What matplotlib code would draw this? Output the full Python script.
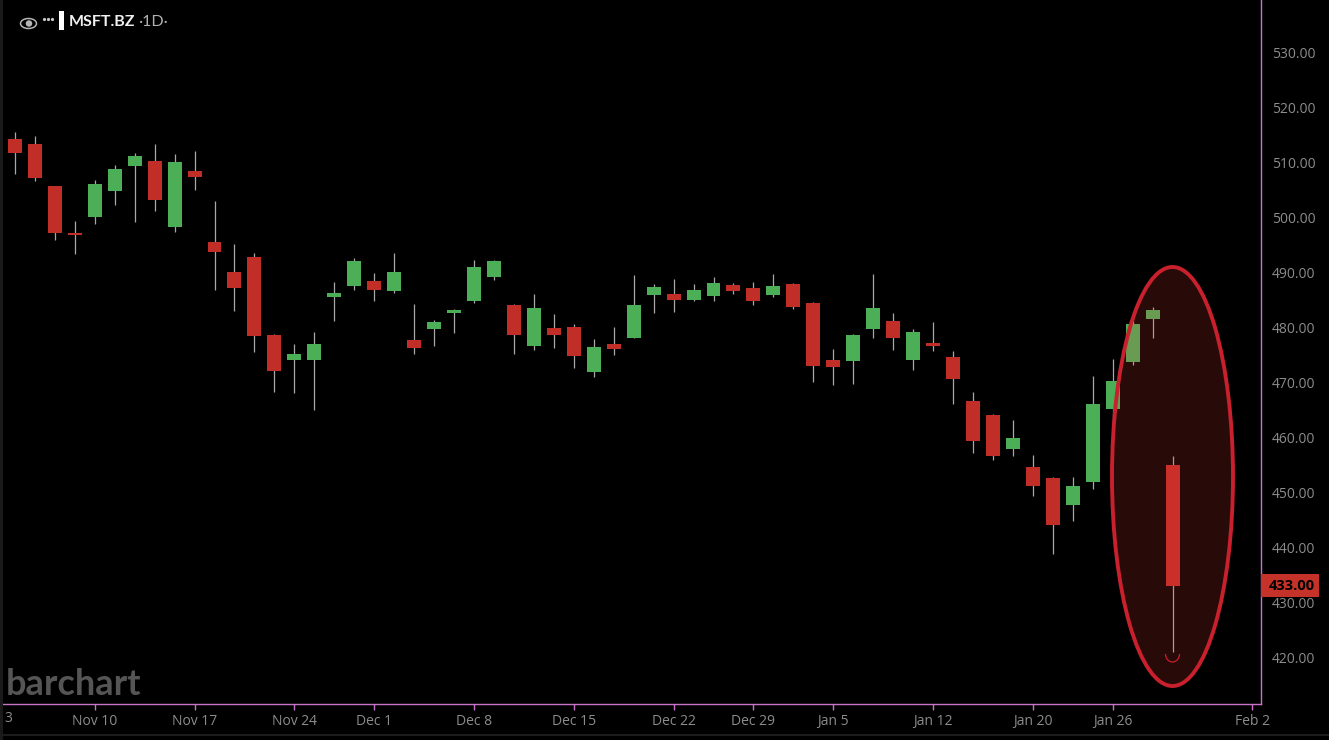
import matplotlib
matplotlib.use("Agg")
import matplotlib.pyplot as plt
from matplotlib.patches import Ellipse, Arc, Rectangle

plt.rcParams['font.family'] = ['Open Sans', 'DejaVu Sans']

# daily candles, Nov 4 -> Jan 29
opens = [514.3, 513.3, 505.7, 496.95, 500.0, 504.8, 509.3, 510.3, 498.2, 508.4,
         495.4, 490.1, 492.7, 478.5, 474.0, 474.0, 485.5, 487.5, 488.4, 486.6,
         477.7, 479.7, 482.5, 484.8, 489.1, 484.0, 476.6, 479.9, 480.1, 471.9,
         476.9, 478.1, 485.9, 486.1, 484.9, 485.7, 487.7, 487.1, 485.9, 487.9,
         484.4, 474.0, 473.8, 479.7, 481.2, 474.1, 477.2, 474.6, 466.5, 464.1,
         457.9, 454.5, 452.6, 447.6, 451.9, 465.2, 473.7, 481.5, 455.0]
closes = [511.7, 507.1, 497.1, 496.85, 506.0, 508.7, 511.1, 503.2, 510.1, 507.4,
          493.7, 487.1, 478.4, 472.1, 475.1, 477.0, 486.3, 492.0, 486.7, 490.0,
          476.3, 480.9, 483.2, 491.0, 492.0, 478.5, 483.5, 478.5, 474.8, 476.4,
          476.1, 484.0, 487.4, 484.9, 486.8, 488.0, 486.6, 484.8, 487.5, 483.6,
          472.9, 472.8, 478.5, 483.5, 478.1, 479.2, 476.6, 470.6, 459.4, 456.6,
          459.9, 451.2, 444.1, 451.2, 466.0, 470.3, 480.6, 483.2, 433.0]
highs = [515.5, 514.8, 505.7, 499.3, 506.8, 509.5, 511.7, 513.4, 511.5, 512.0,
         502.9, 495.1, 493.5, 478.8, 476.9, 479.1, 488.3, 492.6, 489.9, 493.5,
         484.2, 481.3, 483.3, 492.3, 492.2, 484.2, 486.0, 482.4, 480.6, 477.9,
         480.0, 489.5, 487.9, 488.8, 487.9, 489.1, 488.0, 488.3, 489.7, 488.0,
         484.6, 476.0, 478.7, 489.7, 482.6, 479.7, 481.0, 475.7, 468.2, 464.3,
         463.2, 456.8, 452.8, 452.8, 471.1, 474.3, 482.8, 483.7, 456.5]
lows = [507.9, 506.6, 495.8, 493.3, 498.8, 502.3, 499.2, 501.2, 497.4, 504.9,
        486.8, 482.9, 475.5, 468.3, 468.0, 464.9, 481.2, 486.7, 484.7, 486.3,
        475.2, 476.5, 478.9, 484.4, 488.5, 475.1, 475.9, 476.3, 472.5, 470.9,
        475.0, 478.0, 482.5, 482.7, 484.7, 484.8, 486.0, 484.1, 485.5, 483.3,
        470.1, 469.5, 469.7, 478.0, 475.9, 472.2, 475.7, 466.0, 457.2, 455.9,
        456.5, 449.3, 438.8, 444.8, 450.6, 462.1, 473.2, 478.0, 421.0]

date_ticks = [4, 9, 14, 18, 23, 28, 33, 37, 41, 46, 51, 55, 62]
date_labels = ["Nov 10", "Nov 17", "Nov 24", "Dec 1", "Dec 8", "Dec 15", "Dec 22",
               "Dec 29", "Jan 5", "Jan 12", "Jan 20", "Jan 26", "Feb 2"]
price_ticks = list(range(420, 540, 10))
last_price = 433.0

W, H = 1329, 740
AX_W, AX_H = 1261, 704
BAR_STEP, BAR_X0 = 19.96, 14.9
PX_PER_USD, Y_530 = 5.5, 52.2

GREEN = "#4dae58"
RED = "#c02e27"
WICK = "#a8a8a8"
PINK = "#c873c8"
LABEL = "#8c8c8c"

fig = plt.figure(figsize=(W / 100, H / 100), dpi=100, facecolor="black")
ax = fig.add_axes([0, 1 - AX_H / H, AX_W / W, AX_H / H], facecolor="black")
ax.set_xlim(-BAR_X0 / BAR_STEP, (AX_W - BAR_X0) / BAR_STEP)
ax.set_ylim(530 - (AX_H - Y_530) / PX_PER_USD, 530 + Y_530 / PX_PER_USD)

for i in range(len(opens)):
    col = GREEN if closes[i] > opens[i] else RED
    ax.vlines(i, lows[i], highs[i], color=WICK, linewidth=0.9, zorder=2)
    body = max(abs(closes[i] - opens[i]), 0.2)
    ax.bar(i, body, bottom=min(opens[i], closes[i]), width=0.7, color=col, zorder=3)

ax.yaxis.tick_right()
ax.set_yticks(price_ticks)
ax.set_yticklabels([f"{p:.2f}" for p in price_ticks])
ax.tick_params(axis="y", length=0, pad=8, labelsize=10, labelcolor=LABEL)
ax.set_xticks(date_ticks)
ax.set_xticklabels(date_labels)
ax.tick_params(axis="x", length=4, width=1, color=PINK, pad=3.4, labelsize=10, labelcolor=LABEL)
for name in ["top", "left"]:
    ax.spines[name].set_visible(False)
for name in ["right", "bottom"]:
    ax.spines[name].set_color(PINK)
    ax.spines[name].set_linewidth(1)

# overlay in pixel coords for the drawing tools and the header
ov = fig.add_axes([0, 0, 1, 1], zorder=5)
ov.set_xlim(0, W)
ov.set_ylim(H, 0)
ov.axis("off")

ov.add_patch(Ellipse((1172.5, 476.5), 121, 419, facecolor=(1, 0.25, 0.22, 0.16), edgecolor="none"))
ov.add_patch(Ellipse((1172.5, 476.5), 121, 419, facecolor="none", edgecolor="#c8202c", linewidth=2.8))
ov.add_patch(Arc((1172.5, 654), 14, 16, theta1=0, theta2=180, edgecolor="#c8202c", linewidth=0.9))

# last price tag
tag_y = Y_530 + (530 - last_price) * PX_PER_USD
ov.add_patch(Rectangle((1260.5, tag_y - 11.5), 58.5, 23, facecolor="#c4322a", edgecolor="none"))
ov.text(1292, tag_y, f"{last_price:.2f}", color="black", fontsize=10.5, fontweight="bold", ha="center", va="center")

ov.text(8, 719, "3", color=LABEL, fontsize=10, ha="center", va="center")

# logo and header
ov.text(6, 684.5, "barchart", family=["Lato", "DejaVu Sans"], color="#555555", fontsize=26,
        fontweight="bold", ha="left", va="center")
ov.add_patch(Ellipse((28.5, 23.5), 16, 10, facecolor="none", edgecolor="#b5b5b5", linewidth=1.1))
ov.add_patch(Ellipse((29, 23.5), 6.5, 6.5, facecolor="#b5b5b5", edgecolor="none"))
ov.plot([44, 48, 52], [19, 19, 19], linestyle="none", marker="o", markersize=1.3, color="#c8c8c8")
ov.add_patch(Rectangle((59, 11), 4.5, 19, facecolor="white", edgecolor="none"))
ov.text(69, 22, "MSFT.BZ", family=["Lato", "DejaVu Sans"], color="#f0f0f0", fontsize=11.5,
        fontweight="bold", ha="left", va="center")
ov.text(138, 22, "·1D·", family=["Lato", "DejaVu Sans"], color="#b0b0b0", fontsize=11.5,
        ha="left", va="center")

# faint frame at the window edge
ov.add_patch(Rectangle((0, 0), 2.5, H, facecolor="#1a1a1a", edgecolor="none"))
ov.add_patch(Rectangle((0, 734), W, 1.5, facecolor="#1c1c1c", edgecolor="none"))

fig.savefig("out.png", dpi=100, facecolor="black")
